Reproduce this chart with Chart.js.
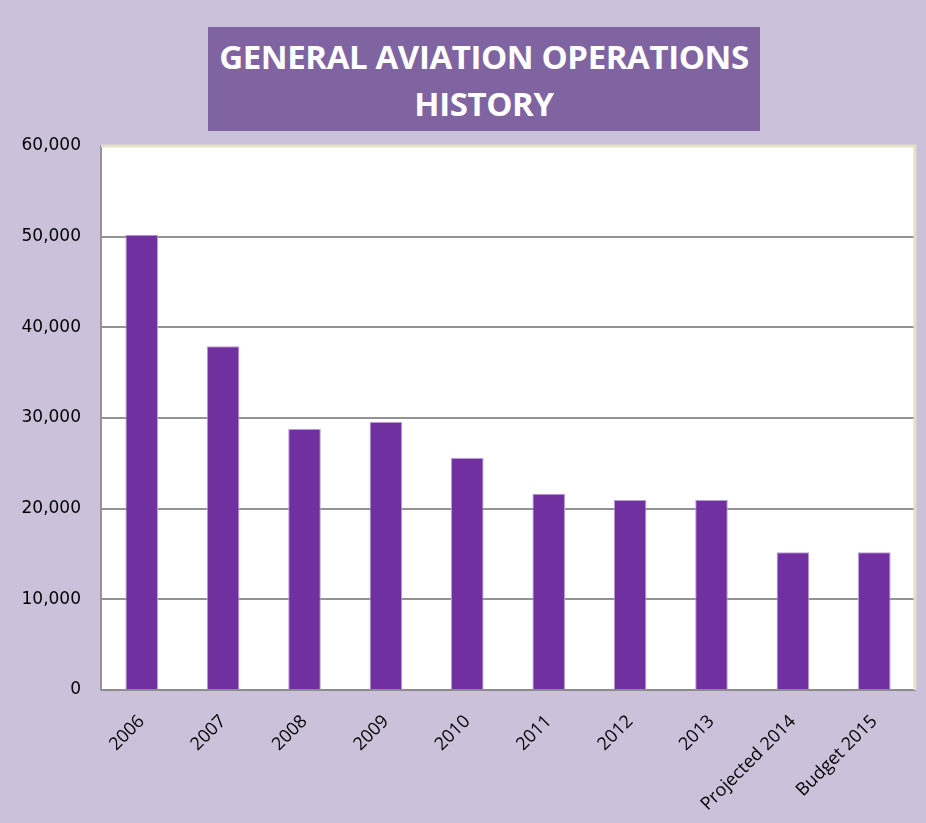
<!DOCTYPE html>
<html>
<head>
<meta charset="utf-8">
<script src="https://cdn.jsdelivr.net/npm/chart.js@4/dist/chart.umd.min.js"></script>
<style>
  body { margin: 0; background: #cbc1da; }
  #wrap { position: relative; width: 926px; height: 823px; }
  #title {
    position: absolute; left: 208px; top: 27px; width: 552px; height: 104px;
    background: #8064a2; color: #fff; text-align: center;
    font-family: "Open Sans", sans-serif; font-weight: bold; font-size: 33px;
    line-height: 47px; padding-top: 6px; box-sizing: border-box; letter-spacing: -0.4px;
    white-space: nowrap;
  }
</style>
</head>
<body>
<div id="wrap">
  <canvas id="chart"></canvas>
  <div id="title">GENERAL AVIATION OPERATIONS<br>HISTORY</div>
</div>
<script>
// general aviation operations per year
const years = ['2006', '2007', '2008', '2009', '2010', '2011', '2012', '2013', 'Projected 2014', 'Budget 2015'];
const operations = [50200, 37900, 28800, 29550, 25600, 21650, 20950, 20950, 15200, 15200];
const yTicks = [0, 10000, 20000, 30000, 40000, 50000, 60000];

// paint the lavender page and the white plot area
const backdrop = {
  id: 'backdrop',
  beforeDraw(chart) {
    const { ctx, chartArea } = chart;
    ctx.save();
    ctx.fillStyle = '#cbc1da';
    ctx.fillRect(0, 0, chart.width, chart.height);
    ctx.fillStyle = '#ffffff';
    ctx.fillRect(chartArea.left, chartArea.top, chartArea.right - chartArea.left, chartArea.bottom - chartArea.top);
    ctx.restore();
  },
  afterDatasetsDraw(chart) {
    const { ctx, chartArea } = chart;
    ctx.save();
    ctx.strokeStyle = '#e4e0c8';
    ctx.lineWidth = 3;
    ctx.beginPath();
    ctx.moveTo(chartArea.left, chartArea.top);
    ctx.lineTo(chartArea.right, chartArea.top);
    ctx.lineTo(chartArea.right, chartArea.bottom);
    ctx.stroke();
    ctx.restore();
  }
};

const ctx = document.getElementById('chart').getContext('2d');

const opsChart = new Chart(ctx, {
  type: 'bar',
  data: {
    labels: years,
    datasets: [{
      label: 'General Aviation Operations',
      data: operations,
      backgroundColor: '#7030a0',
      borderColor: '#b79bd3',
      borderWidth: 1,
      barPercentage: 0.4,
      categoryPercentage: 1
    }]
  },
  options: {
    responsive: true,
    maintainAspectRatio: false,
    animation: false,
    layout: {
      padding: { top: 146, right: 11, left: 0, bottom: 0 }
    },
    plugins: {
      legend: { display: false },
      tooltip: { enabled: false }
    },
    scales: {
      x: {
        grid: { display: false },
        border: { color: '#8c8c8c', width: 2 },
        ticks: {
          color: '#000',
          font: { family: '"Open Sans", sans-serif', size: 18 },
          minRotation: 45,
          maxRotation: 45,
          padding: 13
        },
        afterFit(scale) { scale.height = 133; }
      },
      y: {
        min: 0,
        max: 60000,
        afterBuildTicks(scale) { scale.ticks = yTicks.map(v => ({ value: v })); },
        grid: { color: '#939393', lineWidth: 2, drawTicks: false },
        border: { color: '#939393', width: 2 },
        ticks: {
          color: '#000',
          padding: 20,
          font: { family: '"DejaVu Sans", sans-serif', size: 17 },
          callback: v => v.toLocaleString('en-US')
        },
        afterFit(scale) { scale.width = 101; }
      }
    }
  },
  plugins: [backdrop]
});
</script>
</body>
</html>
